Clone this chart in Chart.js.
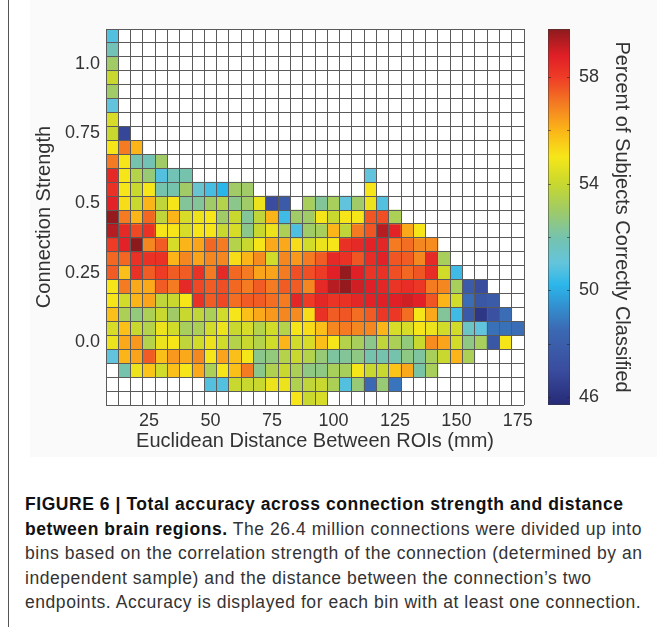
<!DOCTYPE html>
<html>
<head>
<meta charset="utf-8">
<script src="https://cdn.jsdelivr.net/npm/chart.js@4.4.1/dist/chart.umd.min.js"></script>
<style>
  html, body { margin: 0; padding: 0; background: #fff; }
  body { width: 657px; height: 627px; position: relative; overflow: hidden;
         font-family: "Liberation Sans", Arial, sans-serif; }
  #frame { position: absolute; left: 8px; top: 0; width: 1px; height: 627px; background: #555; }
  #backdrop { position: absolute; left: 30px; top: 0; width: 627px; height: 457px; background: #fafafa; }
  #plot { position: absolute; left: 0; top: 0; width: 657px; height: 470px; }
  #caption { position: absolute; left: 25px; top: 492px; font-size: 17.5px; line-height: 24.6px;
             letter-spacing: 0.55px; color: #333; white-space: nowrap; }
  #caption b { color: #111; }
</style>
</head>
<body>
<div id="frame"></div>
<div id="backdrop"></div>
<div id="plot"><canvas id="heat"></canvas></div>
<div id="caption"><b>FIGURE 6 | Total accuracy across connection strength and distance<br>between brain regions.</b> The 26.4 million connections were divided up into<br>bins based on the correlation strength of the connection (determined by an<br>independent sample) and the distance between the connection’s two<br>endpoints. Accuracy is displayed for each bin with at least one connection.</div>
<script>
// bin centres
const distances = [10, 15, 20, 25, 30, 35, 40, 45, 50, 55, 60, 65, 70, 75, 80, 85, 90,
                   95, 100, 105, 110, 115, 120, 125, 130, 135, 140, 145, 150, 155, 160, 165, 170, 175];
const strengths = [1.1, 1.05, 1.0, 0.95, 0.9, 0.85, 0.8, 0.75, 0.7, 0.65, 0.6, 0.55, 0.5, 0.45,
                   0.4, 0.35, 0.3, 0.25, 0.2, 0.15, 0.1, 0.05, 0.0, -0.05, -0.1, -0.15, -0.2];

const distanceTicks = [25, 50, 75, 100, 125, 150, 175];
const strengthTicks = [0, 0.25, 0.5, 0.75, 1.0];
const strengthTickLabels = ['0.0', '0.25', '0.5', '0.75', '1.0'];
const colorTicks = [46, 50, 54, 58];
const colorMinorTicks = [46, 48, 50, 52, 54, 56, 58];
const colorRange = [45.7, 59.8];

// percent correctly classified, one row per strength bin (top row first)
const _ = null;
const accuracy = [
  [50.8],
  [51.8],
  [53.0],
  [54.0],
  [53.0],
  [51.0],
  [54.3],
  [54.0, 46.8],
  [55.0, 57.0, 56.0],
  [57.0, 55.0, 52.0, 51.8, 53.0],
  [58.5, 55.0, 53.5, 52.8, 50.8, 51.8, 52.0, _, _, _, _, _, _, _, _, _, _, _, _, _, _, 51.0],
  [58.3, 55.0, 54.0, 55.0, 52.0, 52.0, 53.0, 51.3, 50.6, 50.2, 53.0, 53.0, _, _, _, _, _, _, _, _, _, 55.0],
  [58.7, 55.2, 54.0, 56.0, 53.8, 55.0, 52.3, 52.3, 53.0, 53.5, 52.5, 53.0, 54.8, 47.0, 47.8, _, 53.2, 52.3, 53.2, 51.0, 53.0, 54.8, 50.8],
  [59.7, 57.0, 56.0, 57.3, 53.8, 56.0, 54.3, 54.8, 55.0, 53.0, 54.0, 52.3, 53.8, 56.0, 50.5, 53.0, 53.0, 55.0, 54.0, 55.0, 55.0, 57.6, 57.7, 53.3],
  [59.3, 58.5, 57.8, 58.3, 55.0, 55.0, 54.3, 55.0, 55.0, 54.0, 54.3, 52.5, 54.0, 54.8, 53.3, 50.7, 53.0, 53.2, 56.0, 53.8, 57.0, 57.6, 59.3, 58.7, 56.2, 55.0],
  [58.0, 58.7, 59.8, 56.8, 57.5, 54.3, 56.0, 56.3, 57.3, 57.0, 53.5, 54.0, 55.0, 56.2, 56.2, 55.2, 54.2, 54.8, 55.0, 58.3, 58.5, 58.7, 58.6, 57.0, 57.2, 56.8, 56.7],
  [57.3, 57.3, 58.3, 58.3, 58.3, 56.0, 56.8, 56.3, 56.8, 56.8, 55.2, 56.0, 56.7, 54.2, 56.8, 56.5, 57.0, 57.5, 58.5, 58.3, 57.6, 58.4, 58.7, 57.6, 57.5, 56.8, 58.5, 53.2],
  [57.5, 55.8, 58.3, 57.5, 58.0, 57.5, 57.5, 58.3, 57.0, 58.5, 57.3, 57.0, 56.3, 56.3, 57.0, 57.7, 57.7, 58.0, 58.8, 59.7, 58.8, 58.2, 58.3, 57.7, 57.3, 57.6, 58.4, 54.2, 50.5],
  [55.0, 57.0, 56.2, 56.2, 57.5, 57.0, 58.5, 57.8, 57.5, 57.7, 57.3, 57.0, 57.5, 57.0, 57.5, 57.5, 56.8, 58.5, 59.3, 59.7, 59.0, 58.8, 58.6, 58.2, 58.4, 58.1, 57.0, 56.8, 53.2, 47.8, 47.0],
  [55.0, 54.2, 56.0, 56.3, 53.8, 54.0, 55.0, 58.3, 57.5, 57.8, 57.2, 57.5, 57.5, 57.2, 57.0, 58.6, 58.0, 58.6, 58.2, 58.3, 58.6, 58.7, 58.8, 58.8, 59.0, 58.8, 57.6, 56.0, 54.2, 48.6, 47.6, 47.8],
  [55.8, 53.3, 52.7, 53.3, 54.0, 53.0, 54.0, 53.8, 53.3, 54.2, 55.0, 55.8, 56.2, 56.5, 56.8, 56.7, 55.2, 58.3, 57.5, 57.6, 57.2, 57.5, 58.1, 58.1, 57.2, 55.0, 56.2, 52.3, 50.5, 47.7, 46.2, 47.2, 48.6],
  [54.3, 55.8, 54.0, 53.5, 54.8, 54.2, 53.2, 53.3, 54.2, 54.8, 54.0, 54.3, 53.5, 54.2, 53.5, 55.0, 55.2, 55.8, 56.8, 57.0, 56.8, 56.8, 56.0, 54.3, 54.3, 55.0, 54.8, 54.2, 54.2, 51.5, 51.0, 48.7, 48.7, 48.6],
  [54.8, 56.2, 56.5, 53.5, 54.8, 55.0, 53.8, 54.2, 54.8, 54.2, 53.5, 54.0, 53.5, 54.2, 56.0, 54.2, 54.3, 55.8, 55.0, 53.5, 53.2, 52.5, 53.8, 53.3, 52.7, 54.0, 56.7, 56.3, 54.2, 52.6, 53.2, 47.6, 55.0],
  [51.0, 56.0, 56.3, 57.5, 55.8, 56.5, 56.2, 56.8, 55.0, 56.3, 55.8, 55.0, 52.5, 52.7, 53.5, 54.0, 53.5, 52.8, 52.2, 52.3, 52.6, 52.0, 52.0, 52.0, 52.6, 52.2, 53.2, 54.0, 56.0, 53.3],
  [_, 52.0, 54.8, 55.7, 54.2, 55.8, 55.0, 56.2, 53.3, 55.0, 55.8, 57.0, 52.5, 53.4, 54.0, 53.3, 52.6, 52.6, 53.2, 53.2, 55.0, 54.0, 54.0, 55.7, 56.2, 52.1, 53.2],
  [_, _, _, _, _, _, _, _, 50.8, 50.8, 54.0, 54.0, 54.0, 54.8, 54.8, 53.4, 53.8, 54.0, 53.3, 50.8, 52.8, 48.5, 52.8, 48.8],
  [_, _, _, _, _, _, _, _, _, _, _, _, _, _, _, 55.0, 54.0, 54.3]
];

// colour map, value -> colour (matches the colour bar)
const colorStops = [
  [45.7, '#262a76'], [47.0, '#3a4c9e'], [48.5, '#3b68b2'], [49.5, '#3195d3'],
  [50.2, '#2bb6ea'], [51.0, '#62c4dc'], [52.0, '#76c3ad'], [53.0, '#a0cb66'],
  [54.0, '#c8d82e'], [55.0, '#f6e619'], [56.0, '#fbb518'], [57.0, '#f47b22'],
  [58.0, '#ee3b26'], [58.8, '#e01f26'], [59.8, '#8c1a1d']
];

const gridColor = '#5a5a5a';
const textColor = '#333';

function hexToRgb(h) {
  const n = parseInt(h.slice(1), 16);
  return [(n >> 16) & 255, (n >> 8) & 255, n & 255];
}

function colorFor(v) {
  if (v == null) return 'rgba(0,0,0,0)';
  if (v <= colorStops[0][0]) return colorStops[0][1];
  for (let i = 1; i < colorStops.length; i++) {
    if (v <= colorStops[i][0]) {
      const t = (v - colorStops[i - 1][0]) / (colorStops[i][0] - colorStops[i - 1][0]);
      const a = hexToRgb(colorStops[i - 1][1]), b = hexToRgb(colorStops[i][1]);
      const c = a.map((x, k) => Math.round(x + (b[k] - x) * t));
      return `rgb(${c[0]},${c[1]},${c[2]})`;
    }
  }
  return colorStops[colorStops.length - 1][1];
}

const half = (strengths[0] - strengths[1]) / 2;
const yMin = strengths[strengths.length - 1] - half;
const yMax = strengths[0] + half;
const yEdges = strengths.map(s => s + half).concat([yMin]);

const datasets = accuracy.map((row, r) => ({
  label: strengths[r].toFixed(2),
  data: distances.map((d, c) => row[c] == null ? null : [strengths[r] - half, strengths[r] + half]),
  backgroundColor: distances.map((d, c) => colorFor(row[c])),
  borderWidth: 0,
  grouped: false,
  barPercentage: 1,
  categoryPercentage: 1,
  yAxisID: 'y'
}));

// white plot field behind the cells
const fieldPlugin = {
  id: 'field',
  beforeDraw(chart) {
    const a = chart.chartArea, ctx = chart.ctx;
    ctx.save();
    ctx.fillStyle = '#fff';
    ctx.fillRect(a.left, a.top, a.right - a.left, a.bottom - a.top);
    ctx.restore();
  }
};

const colorbarPlugin = {
  id: 'colorbar',
  afterDraw(chart) {
    const s = chart.scales.cb, ctx = chart.ctx;
    const x0 = chart.chartArea.right + 24, w = 22;
    const top = s.getPixelForValue(colorRange[1]);
    const bot = s.getPixelForValue(colorRange[0]);
    const g = ctx.createLinearGradient(0, bot, 0, top);
    colorStops.forEach(([v, c]) => g.addColorStop((v - colorRange[0]) / (colorRange[1] - colorRange[0]), c));
    ctx.save();
    ctx.fillStyle = g;
    ctx.fillRect(x0, top, w, bot - top);
    ctx.strokeStyle = 'rgba(30,30,30,0.55)';
    ctx.lineWidth = 1;
    colorMinorTicks.forEach(v => {
      const y = Math.round(s.getPixelForValue(v)) + 0.5;
      ctx.beginPath();
      ctx.moveTo(x0, y); ctx.lineTo(x0 + 3, y);
      ctx.moveTo(x0 + w - 3, y); ctx.lineTo(x0 + w, y);
      ctx.stroke();
    });
    ctx.strokeStyle = 'rgba(60,60,60,0.5)';
    ctx.strokeRect(x0 + 0.5, top + 0.5, w - 1, bot - top - 1);
    ctx.restore();
  }
};

Chart.defaults.font.family = '"Liberation Sans", Arial, sans-serif';

new Chart(document.getElementById('heat'), {
  type: 'bar',
  data: { labels: distances, datasets },
  plugins: [fieldPlugin, colorbarPlugin],
  options: {
    responsive: true,
    maintainAspectRatio: false,
    animation: false,
    layout: { padding: { top: 29, left: 0, right: 0, bottom: 0 } },
    plugins: { legend: { display: false }, tooltip: { enabled: false } },
    scales: {
      x: {
        type: 'category',
        offset: true,
        grid: { offset: true, color: gridColor, lineWidth: 1, drawTicks: false, z: 1 },
        border: { display: false },
        ticks: {
          autoSkip: false, maxRotation: 0, padding: 5, color: textColor, font: { size: 18 },
          callback: (v, i) => distanceTicks.includes(distances[i]) ? String(distances[i]) : ''
        },
        title: { display: true, text: 'Euclidean Distance Between ROIs (mm)', color: textColor,
                 font: { size: 20 }, padding: { top: 0, bottom: 17 } },
        afterFit: s => { s.height = 65; }
      },
      y: {
        type: 'linear', position: 'left', weight: 10,
        min: yMin, max: yMax,
        afterBuildTicks: s => { s.ticks = yEdges.map(v => ({ value: v })); },
        ticks: { display: false },
        grid: { color: gridColor, lineWidth: 1, drawTicks: false, z: 1 },
        border: { display: false },
        afterFit: s => { s.width = 0; }
      },
      yl: {
        type: 'linear', position: 'left', weight: 0,
        min: yMin, max: yMax,
        afterBuildTicks: s => { s.ticks = strengthTicks.map(v => ({ value: v })); },
        ticks: { padding: 6, color: textColor, font: { size: 18 },
                 callback: (v, i) => strengthTickLabels[i] },
        grid: { display: false, drawTicks: false },
        border: { display: false },
        title: { display: true, text: 'Connection Strength', color: textColor,
                 font: { size: 20 }, padding: { top: 32, bottom: 0 } },
        afterFit: s => { s.width = 106; }
      },
      cb: {
        type: 'linear', position: 'right',
        min: colorRange[0], max: colorRange[1],
        afterBuildTicks: s => { s.ticks = colorTicks.map(v => ({ value: v })); },
        ticks: { padding: 4, color: textColor, font: { size: 18 } },
        grid: { display: false, drawTicks: true, tickLength: 51 },
        border: { display: false },
        title: { display: true, text: 'Percent of Subjects Correctly Classified', color: textColor,
                 font: { size: 20 }, padding: { top: 23, bottom: 0 } },
        afterFit: s => { s.width = 133; }
      }
    }
  }
});
</script>
</body>
</html>
